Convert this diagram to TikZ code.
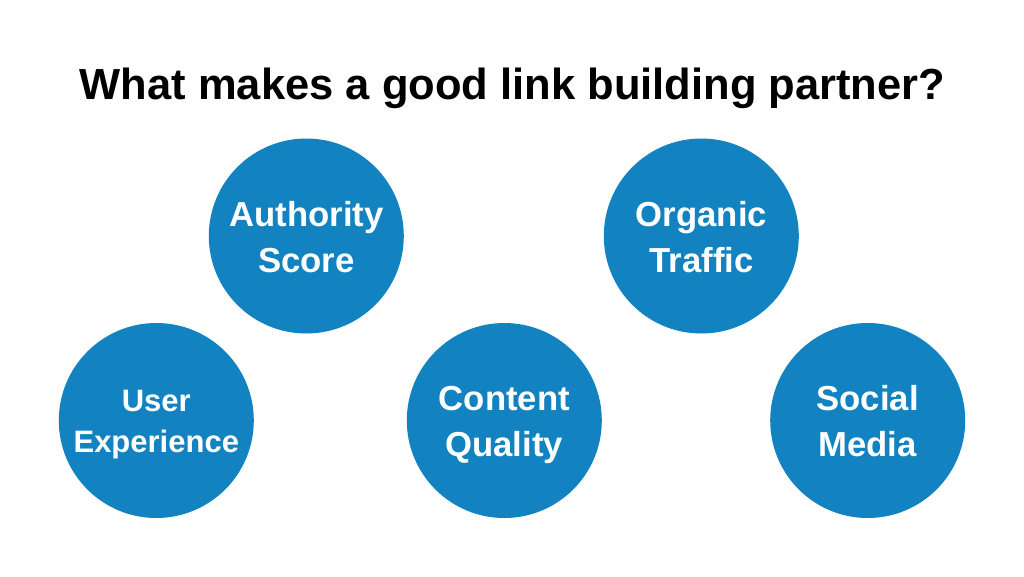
\documentclass[tikz,border=0pt]{standalone}
\usepackage{fontspec}
\setmainfont{Liberation Sans}
\definecolor{disc}{HTML}{1283C0}
\tikzset{
 disc/.style={circle,fill=disc,minimum size=195pt,inner sep=0pt,outer sep=0pt},
 lab/.style={text=white,font=\fontsize{#1}{#1}\selectfont\bfseries,anchor=base,inner sep=0pt},
 ttl/.style={text=black,font=\fontsize{43.5}{43.5}\selectfont\bfseries,anchor=base,inner sep=0pt}
}
\begin{document}
\begin{tikzpicture}[x=1pt,y=-1pt]
\useasboundingbox (0,0) rectangle (1024,576);
\fill[white] (0,0) rectangle (1024,576);
\node[ttl] (title) at (512.5,99) {What makes a good link building partner?};
\node[disc] (a) at (306.3,236) {};
\node[disc] (o) at (701.3,236) {};
\node[disc] (u) at (156.3,420.5) {};
\node[disc] (c) at (504.3,420.5) {};
\node[disc] (s) at (867.7,420.5) {};
\node[lab=34.7] (a1) at (306.5,226) {Authority};
\node[lab=34.7] (a2) at (306.5,272) {Score};
\node[lab=34.7] (o1) at (701.5,226) {Organic};
\node[lab=34.7] (o2) at (701.5,272) {Traffic};
\node[lab=31] (u1) at (156.3,411) {User};
\node[lab=31] (u2) at (156.3,452) {Experience};
\node[lab=34.7] (c1) at (504.3,410) {Content};
\node[lab=34.7] (c2) at (504.3,456) {Quality};
\node[lab=34.7] (s1) at (867.7,410) {Social};
\node[lab=34.7] (s2) at (867.7,456) {Media};
\end{tikzpicture}
\end{document}
